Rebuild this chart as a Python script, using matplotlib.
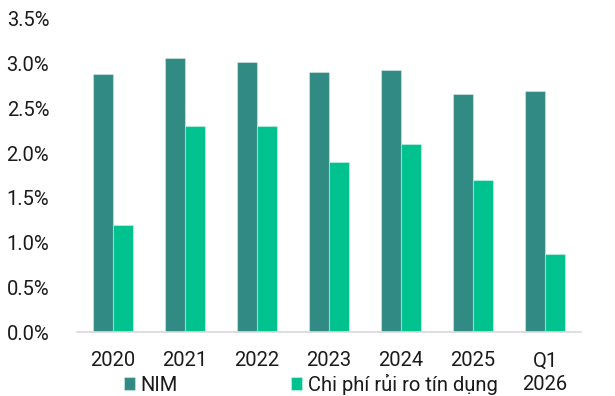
import matplotlib
matplotlib.use("Agg")
import matplotlib.pyplot as plt
import numpy as np

categories = ["2020", "2021", "2022", "2023", "2024", "2025", "Q1\n2026"]
nim = [2.89, 3.06, 3.02, 2.91, 2.93, 2.66, 2.69]
credit_cost = [1.20, 2.30, 2.30, 1.90, 2.10, 1.70, 0.87]
series_names = ["NIM", "Chi phí rủi ro tín dụng"]
y_ticks = [0.0, 0.5, 1.0, 1.5, 2.0, 2.5, 3.0, 3.5]

plt.rcParams["font.family"] = ["Roboto", "DejaVu Sans"]

fig = plt.figure(figsize=(6.15, 3.96), dpi=100)
ax = fig.add_axes([77 / 615, 1 - 332 / 396, (581 - 77) / 615, (332 - 19) / 396])

x = np.arange(len(categories))
w = 0.28
c_nim = "#318b84"
c_cost = "#00c28f"
b1 = ax.bar(x - w / 2, nim, w, color=c_nim, edgecolor=(1, 1, 1, 0.35), linewidth=0.8,
            label=series_names[0])
b2 = ax.bar(x + w / 2, credit_cost, w, color=c_cost, edgecolor=(1, 1, 1, 0.35), linewidth=0.8,
            label=series_names[1])

ax.set_xlim(-0.5, len(categories) - 0.5)
ax.set_ylim(0, 3.5)
ax.set_yticks(y_ticks)
ax.set_yticklabels([f"{v:.1f}%" for v in y_ticks])
ax.set_xticks(x)
ax.set_xticklabels(categories, linespacing=1.3)

fs = 14.5
for side in ["top", "right", "left"]:
    ax.spines[side].set_visible(False)
ax.spines["bottom"].set_color("#d9d9d9")
ax.spines["bottom"].set_linewidth(1.2)
ax.tick_params(axis="both", length=0, labelsize=fs, colors="#1a1a1a")
ax.tick_params(axis="y", pad=20)
ax.tick_params(axis="x", pad=14)

leg = fig.legend(handles=[b1, b2], loc="center", bbox_to_anchor=(0.505, 0.03), ncol=2,
                 frameon=False, fontsize=fs, handlelength=0.55, handleheight=0.55,
                 handletextpad=0.3, columnspacing=5.6, borderaxespad=0, borderpad=0)
for t in leg.get_texts():
    t.set_color("#1a1a1a")

fig.savefig("out.png", dpi=100)
